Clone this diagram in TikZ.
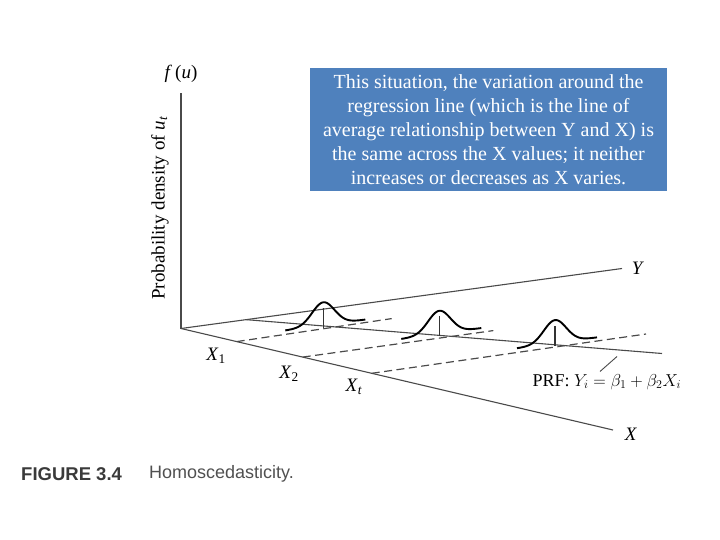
\documentclass[tikz,border=0pt]{standalone}
\usepackage{fontspec}
\setmainfont{Liberation Serif}
\newfontfamily\capfont{Liberation Sans}
\usetikzlibrary{calc}
\definecolor{boxblue}{HTML}{4F81BD}
\definecolor{axisgray}{HTML}{4A4A4A}
\definecolor{capgray}{HTML}{3A3A3A}
\definecolor{titlegray}{HTML}{505050}
\begin{document}
\begin{tikzpicture}[x=1pt,y=-1pt,
  axisline/.style={draw=axisgray,line width=1.1pt},
  guideline/.style={draw=axisgray,line width=1.2pt,dash pattern=on 8pt off 4.5pt},
  bellcurve/.style={draw=black,line width=1.9pt},
  ticktop/.style={draw=black!80,line width=1.2pt},
  lab/.style={inner sep=0pt,font=\fontsize{19}{22}\selectfont},
  caplab/.style={inner sep=0pt,anchor=west}
]
\useasboundingbox (0,0) rectangle (720,540);
% axes
\coordinate (O) at (181,328.5);
\coordinate (Vtop) at (181,93);
\coordinate (Ytip) at (622,268.5);
\coordinate (Xtip) at (613,430);
\draw[axisline] (O) -- (Vtop);
\draw[axisline] (O) -- (Ytip);
\draw[axisline] (O) -- (Xtip);
% regression line
\coordinate (P0) at ($(O)!0.1475!(Ytip)$);
\coordinate (P1) at (662,353.5);
\draw[axisline] (P0) -- (P1);
% dashed guides
\coordinate (X1s) at ($(O)!0.129!(Xtip)$);
\coordinate (X2s) at ($(O)!0.2817!(Xtip)$);
\coordinate (Xts) at ($(O)!0.4415!(Xtip)$);
\coordinate (X1e) at (391.7,318.6);
\coordinate (X2e) at (493.3,330.6);
\coordinate (Xte) at (646,334);
\draw[guideline] (X1s) -- (X1e);
\draw[guideline] (X2s) -- (X2e);
\draw[guideline] (Xts) -- (Xte);
% bells
\foreach \cx/\cy [count=\k] in {323.3/327.8, 439.3/336.3, 555/345.6}{
  \coordinate (B\k) at (\cx,\cy);
  \coordinate (T\k) at (\cx,\cy-20);
  \draw[ticktop] (B\k) -- (T\k);
  \draw[bellcurve] plot[domain=-38:42,samples=70,smooth]
    ({\cx+\x},{\cy-0.1362*\x-2.5-23*exp(-(\x*\x)/250)});
}
% leader
\coordinate (L0) at (600,371.5);
\coordinate (L1) at (617,356.5);
\draw[axisline,line width=0.9pt] (L0) -- (L1);
% labels
\node[lab] (fu) at (181,74) {\textit{f}\,(\textit{u})};
\node[lab,rotate=90] (pd) at (160,208) {Probability density of \textit{u}\textsubscript{\textit{t}}};
\node[lab] (ylab) at (638,268) {\textit{Y}};
\node[lab] (xlab) at (631,434) {\textit{X}};
\node[lab] (x1lab) at (216,356) {\textit{X}\textsubscript{1}};
\node[lab] (x2lab) at (289,374) {\textit{X}\textsubscript{2}};
\node[lab] (xtlab) at (354,387) {\textit{X}\textsubscript{\textit{t}}};
\node[inner sep=0pt,anchor=west,font=\fontsize{18}{21}\selectfont] (prf) at (532.5,382)
  {PRF: $Y_i = \beta_1 + \beta_2 X_i$};
% text box
\node[fill=boxblue,text=white,minimum width=357pt,minimum height=123pt,inner sep=0pt,
  align=center,font=\fontsize{20}{24}\selectfont] (note) at (488.5,129.5)
  {This situation, the variation around the\\
   regression line (which is the line of\\
   average relationship between Y and X) is\\
   the same across the X values; it neither\\
   increases or decreases as X varies.};
% caption
\node[caplab,text=capgray,font=\capfont\bfseries\fontsize{18.5}{21}\selectfont] (fig) at (21,474) {FIGURE 3.4};
\node[caplab,text=titlegray,font=\capfont\fontsize{18}{21}\selectfont] (title) at (149,474) {Homoscedasticity.};
\end{tikzpicture}
\end{document}
